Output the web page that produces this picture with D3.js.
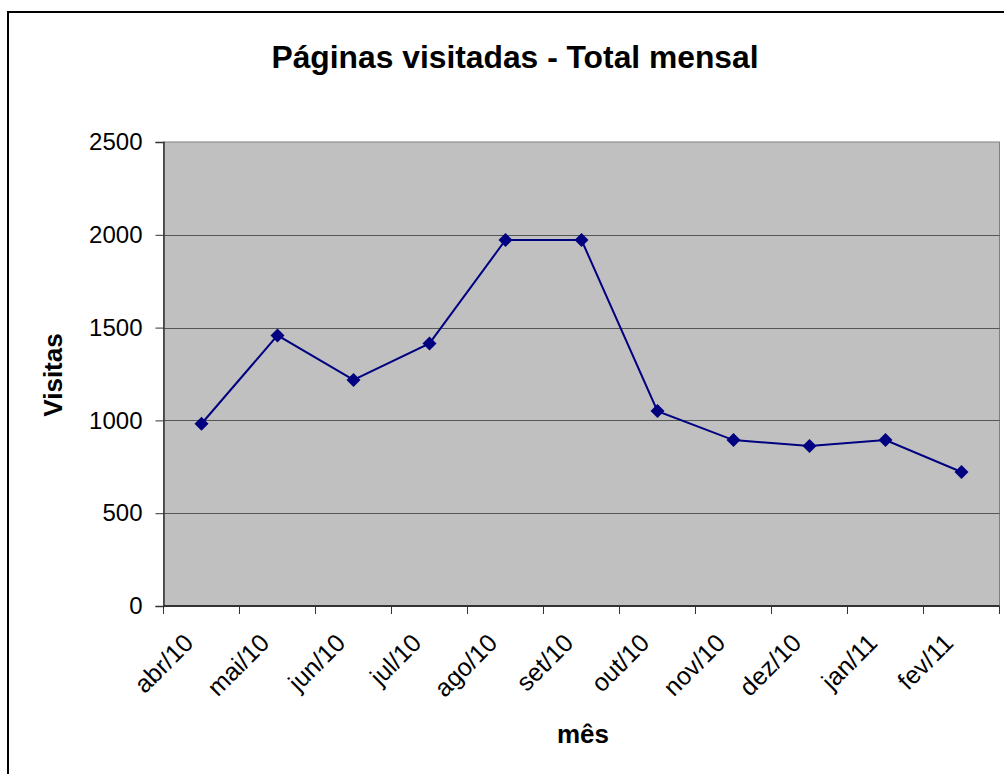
<!DOCTYPE html>
<html><head><meta charset="utf-8">
<script src="https://cdn.jsdelivr.net/npm/d3@7/dist/d3.min.js"></script>
<style>body{margin:0;background:#fff}svg{display:block}text{font-family:Arial,"Liberation Sans",sans-serif}</style>
</head><body><svg id="c" width="1004" height="774"></svg>
<script>
const categories = ["abr/10","mai/10","jun/10","jul/10","ago/10","set/10","out/10","nov/10","dez/10","jan/11","fev/11"];
const visitas = [982, 1458, 1218, 1415, 1972, 1972, 1050, 894, 862, 894, 722];
const yTicks = [0, 500, 1000, 1500, 2000, 2500];
const title = "Páginas visitadas - Total mensal";
const xTitle = "mês";
const yTitle = "Visitas";

const svg = d3.select("#c");
const L = 163.5, R = 999.5, T = 142, B = 606;
const x = d3.scaleBand().domain(categories).range([L, R]);
const y = d3.scaleLinear().domain([0, 2500]).range([B, T]);

// outer border
svg.append("rect").attr("x", 8).attr("y", 12).attr("width", 1010).attr("height", 780)
  .attr("fill", "none").attr("stroke", "#000").attr("stroke-width", 2);

// plot area
svg.append("rect").attr("x", L).attr("y", T).attr("width", R - L).attr("height", B - T)
  .attr("fill", "#c0c0c0").attr("stroke", "#808080").attr("stroke-width", 1);

// gridlines
svg.append("g").selectAll("line").data(yTicks.filter(d => d > 0 && d < 2500)).join("line")
  .attr("x1", L).attr("x2", R).attr("y1", d => Math.round(y(d)) + 0.5).attr("y2", d => Math.round(y(d)) + 0.5)
  .attr("stroke", "#555").attr("stroke-width", 1);

// y axis
const yAxis = d3.axisLeft(y).tickValues(yTicks).tickFormat(d3.format("d")).tickSize(8).tickPadding(13);
const gy = svg.append("g").attr("transform", `translate(${L},0)`).call(yAxis);
gy.select(".domain").attr("stroke", "#333").attr("stroke-width", 1.5);
gy.selectAll(".tick line").attr("stroke", "#333");
gy.selectAll(".tick text").attr("font-size", 24).attr("fill", "#000").attr("font-family", "Arial, 'Liberation Sans', sans-serif");

// x axis: ticks at boundaries
const bounds = categories.map(c => x(c)).concat([R]);
svg.append("line").attr("x1", L).attr("x2", R).attr("y1", B).attr("y2", B).attr("stroke", "#333").attr("stroke-width", 2);
svg.append("g").selectAll("line").data(bounds).join("line")
  .attr("x1", d => d).attr("x2", d => d).attr("y1", B).attr("y2", B + 8).attr("stroke", "#333").attr("stroke-width", 1);
svg.append("g").selectAll("text").data(categories).join("text")
  .attr("transform", d => `translate(${x(d) + x.bandwidth() / 2 - 19},${B + 26}) rotate(-45)`)
  .attr("text-anchor", "end").attr("dy", "0.7em")
  .attr("font-size", 25).attr("fill", "#000").text(d => d);

// line
const line = d3.line().x((d, i) => x(categories[i]) + x.bandwidth() / 2).y(d => y(d));
svg.append("path").datum(visitas).attr("d", line).attr("fill", "none").attr("stroke", "#000080").attr("stroke-width", 2);
svg.append("g").selectAll("path").data(visitas).join("path")
  .attr("transform", (d, i) => `translate(${x(categories[i]) + x.bandwidth() / 2},${y(d)})`)
  .attr("d", "M0,-7L7,0L0,7L-7,0Z").attr("fill", "#000080");

// titles
svg.append("text").attr("x", 515).attr("y", 68).attr("text-anchor", "middle")
  .attr("font-size", 31.8).attr("font-weight", "bold").text(title);
svg.append("text").attr("x", 583).attr("y", 743).attr("text-anchor", "middle")
  .attr("font-size", 26).attr("font-weight", "bold").text(xTitle);
svg.append("text").attr("transform", `translate(62,375) rotate(-90)`).attr("text-anchor", "middle")
  .attr("font-size", 26).attr("font-weight", "bold").text(yTitle);
</script></body></html>
